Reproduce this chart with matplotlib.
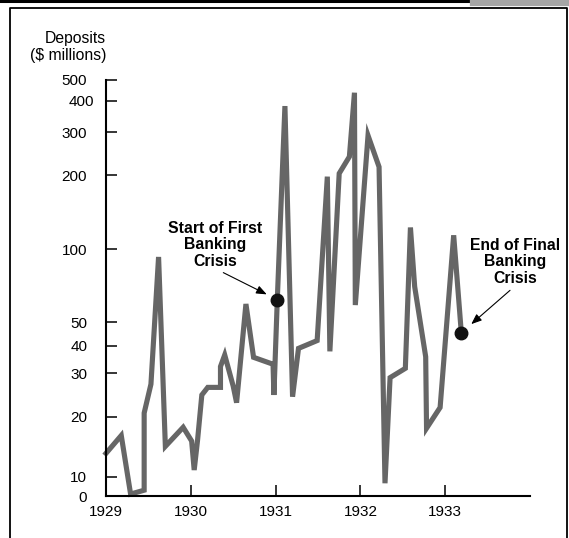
import numpy as np
import matplotlib
matplotlib.use("Agg")
import matplotlib.pyplot as plt
from matplotlib.lines import Line2D
from matplotlib.transforms import ScaledTranslation

plt.rcParams.update({
    "font.family": "sans-serif",
    "font.sans-serif": ["Liberation Sans", "DejaVu Sans"],
})

# --- Data ---

years = [
    1929.00, 1929.18, 1929.29, 1929.45, 1929.45, 1929.53, 1929.62, 1929.70,
    1929.91, 1930.01, 1930.04, 1930.08, 1930.13, 1930.20, 1930.35, 1930.35,
    1930.40, 1930.50, 1930.54, 1930.65, 1930.74, 1930.97, 1930.98, 1931.02,
    1931.11, 1931.20, 1931.27, 1931.49, 1931.61, 1931.64, 1931.75, 1931.87,
    1931.93, 1931.94, 1932.09, 1932.22, 1932.29, 1932.35, 1932.53, 1932.59,
    1932.64, 1932.77, 1932.78, 1932.94, 1933.10, 1933.19,
]
deposits = [
    13.1, 16.1, 1.0, 3.0, 20.7, 27.1, 93.0, 14.2,
    17.7, 15.1, 10.8, 15.3, 24.5, 26.3, 26.3, 32.2,
    36.4, 26.6, 22.8, 59.5, 35.5, 33.0, 24.5, 62.0,
    381.0, 24.1, 39.0, 42.1, 197.0, 37.8, 203.0, 238.0,
    436.0, 58.9, 291.0, 216.0, 6.6, 28.8, 31.6, 122.6,
    70.2, 35.7, 17.5, 21.8, 114.0, 45.3,
]
crisis_start = 23   # index of "Start of First Banking Crisis"
crisis_end = 45     # index of "End of Final Banking Crisis"

year_ticks = [1929, 1930, 1931, 1932, 1933]
deposit_ticks = [0, 10, 20, 30, 40, 50, 100, 200, 300, 400, 500]

# the printed axis is a hand-made gauge: nearly logarithmic, with 0 at the floor
gauge_pos = [0.0, 0.0464, 0.1906, 0.295, 0.3606, 0.4175, 0.593, 0.7716, 0.8743, 0.9502, 1.0]


def _key(v):
    v = np.asarray(v, dtype=float)
    return np.where(v < 10, v / 10.0, 1.0 + np.log10(np.maximum(v, 10) / 10.0))


def _unkey(k):
    k = np.asarray(k, dtype=float)
    return np.where(k < 1, k * 10.0, 10.0 * 10 ** (np.maximum(k, 1) - 1.0))


_gauge_keys = _key(deposit_ticks)


def forward(v):
    return np.interp(_key(v), _gauge_keys, gauge_pos)


def inverse(p):
    return _unkey(np.interp(p, gauge_pos, _gauge_keys))


# --- Plot ---

W, H = 569, 538
fig = plt.figure(figsize=(W / 100, H / 100), dpi=100)
fig.set_facecolor("white")


def fx(x):
    return x / W


def fy(y):
    return 1 - y / H


# page frame around the figure
fig.add_artist(Line2D([0, fx(473)], [fy(1), fy(1)], color="black", lw=2.2))
fig.add_artist(Line2D([fx(473), 1], [fy(2.5), fy(2.5)], color="#a6a6a6", lw=4.5))
fig.add_artist(Line2D([fx(9.5), fx(9.5), fx(566.5), fx(566.5)],
                      [0, fy(7.5), fy(7.5), 0], color="black", lw=1.3))

ax = fig.add_axes([fx(106), 42 / H, 424 / W, 416 / H])
ax.set_yscale("function", functions=(forward, inverse))

ax.plot(years, deposits, color="#666666", lw=3.7, solid_joinstyle="miter",
        clip_on=False, zorder=2)
for i in (crisis_start, crisis_end):
    ax.plot(years[i], deposits[i], "o", ms=9, color="#111111", zorder=3, clip_on=False)

ax.set_xlim(1929, 1934)
ax.set_ylim(0, 500)
ax.set_xticks(year_ticks)
ax.set_xticklabels([str(y) for y in year_ticks])
ax.set_yticks(deposit_ticks)
ax.set_yticklabels([str(d) for d in deposit_ticks])
ax.minorticks_off()

ax.tick_params(axis="both", direction="in", length=8, width=1.1, labelsize=11,
               colors="black")
ax.tick_params(axis="y", pad=13.5)
ax.tick_params(axis="x", pad=6.5)

for s in ("top", "right"):
    ax.spines[s].set_visible(False)
for s in ("left", "bottom"):
    ax.spines[s].set_linewidth(1.5)
    ax.spines[s].set_color("black")

# "400" sits a little to the right in the original
for lab in ax.get_yticklabels():
    if lab.get_text() == "400":
        lab.set_transform(lab.get_transform() +
                          ScaledTranslation(7 / 100, 0, fig.dpi_scale_trans))

ax.annotate("Deposits\n($ millions)", xy=(0, 1), xycoords="axes fraction",
            xytext=(0, 33), textcoords="offset pixels", ha="right", va="center",
            multialignment="right", fontsize=11.3, linespacing=1.12,
            annotation_clip=False)

arrow = dict(arrowstyle="-|>,head_length=0.55,head_width=0.22", color="black",
             lw=0.8, relpos=(0.5, 0.0), shrinkA=2)
ax.annotate("Start of First\nBanking\nCrisis",
            xy=(years[crisis_start], deposits[crisis_start]),
            xytext=(-62, 55), textcoords="offset pixels",
            ha="center", va="center", fontsize=11.3, fontweight="bold",
            linespacing=1.12, arrowprops=dict(arrow, shrinkB=8.5))
ax.annotate("End of Final\nBanking\nCrisis",
            xy=(years[crisis_end], deposits[crisis_end]),
            xytext=(54, 71), textcoords="offset pixels",
            ha="center", va="center", fontsize=11.3, fontweight="bold",
            linespacing=1.12, arrowprops=dict(arrow, shrinkB=9.5),
            annotation_clip=False)

fig.savefig("out.png", dpi=100, facecolor="white")
